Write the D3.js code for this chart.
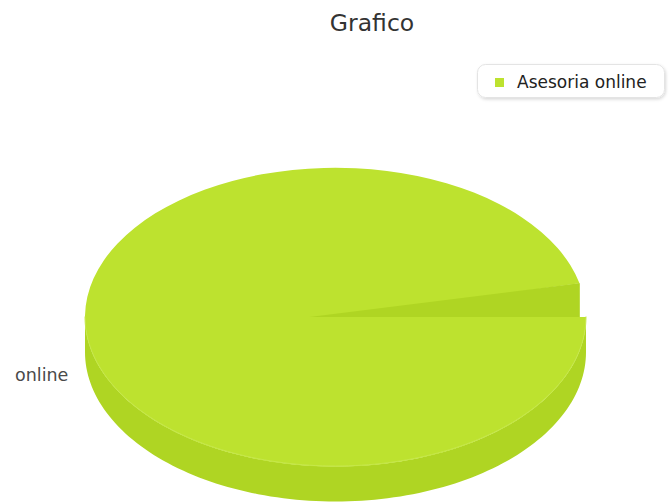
<!DOCTYPE html>
<html>
<head>
<meta charset="utf-8">
<script src="https://cdn.jsdelivr.net/npm/d3@7/dist/d3.min.js"></script>
<style>
  html, body { margin: 0; padding: 0; background: #fff; }
  svg { display: block; font-family: "DejaVu Sans", Verdana, sans-serif; }
</style>
</head>
<body>
<svg id="chart" width="672" height="503"></svg>
<script>
// ---- data ----
const title = "Grafico";
const categories = ["Asesoria online"];
const sliceLabels = ["online"];
const values = [100];
const colors = ["#bde22f"];
const sideColors = ["#afd523"];

// ---- layout ----
const W = 672, H = 503;
const cx = 335.5, cy = 317, rx = 250.5, ry = 149.5, depth = 35;
const apexShift = -26;   // perspective offset of the visible end-face apex
// sweep of the drawn pie (reference shows a small gap above 3 o'clock)
const startA = Math.PI / 2;                       // d3 angle: 3 o'clock
const sweep = 2 * Math.PI * (347 / 360);

const svg = d3.select("#chart");

const pie = d3.pie().sort(null).value(d => d)
  .startAngle(startA).endAngle(startA + sweep);
const arcs = pie(values);

const arcGen = d3.arc().innerRadius(0).outerRadius(1);
const pt = (a, dy = 0) => [cx + rx * Math.sin(a), cy - ry * Math.cos(a) + dy];

const g = svg.append("g");

arcs.forEach((d, i) => {
  const a0 = d.startAngle, a1 = d.endAngle;
  const e = pt(a1);

  // end radial face behind (full)
  g.append("path")
    .attr("d", `M${cx},${cy}L${e[0]},${e[1]}L${e[0]},${e[1] + depth}L${cx},${cy + depth}Z`)
    .attr("fill", sideColors[i]);

  // outer side wall (front half)
  const s0 = Math.max(a0, Math.PI / 2), s1 = Math.min(a1, 3 * Math.PI / 2);
  if (s1 > s0) {
    const n = 120;
    const top = d3.range(n + 1).map(k => pt(s0 + (s1 - s0) * k / n));
    const bot = top.map(p => [p[0], p[1] + depth]).reverse();
    g.append("path")
      .attr("d", "M" + top.concat(bot).map(p => p.join(",")).join("L") + "Z")
      .attr("fill", sideColors[i]);
  }

  // top face
  g.append("path")
    .attr("transform", `translate(${cx},${cy}) scale(${rx},${ry})`)
    .attr("d", arcGen(d))
    .attr("fill", colors[i]);

  // visible part of end face seen through the gap
  g.append("path")
    .attr("d", `M${cx + apexShift},${cy}L${e[0]},${e[1]}L${e[0]},${cy}Z`)
    .attr("fill", sideColors[i]);

  // subtle light rim along front edge
  const n2 = 120;
  const rim = d3.range(n2 + 1).map(k => pt(s0 + (s1 - s0) * k / n2, -0.5));
  g.append("path")
    .attr("d", "M" + rim.map(p => p.join(",")).join("L"))
    .attr("fill", "none")
    .attr("stroke", "#c6e84a")
    .attr("stroke-width", 1);
});

// slice label
svg.append("text")
  .attr("x", 15).attr("y", 381)
  .attr("font-size", 17.5)
  .attr("fill", "#4a4a4a")
  .text(sliceLabels[0]);

// title
svg.append("text")
  .attr("x", 372).attr("y", 31)
  .attr("text-anchor", "middle")
  .attr("font-size", 23.5)
  .attr("fill", "#333")
  .text(title);

// legend
const defs = svg.append("defs");
const f = defs.append("filter").attr("id", "sh").attr("x", "-10%").attr("y", "-30%").attr("width", "130%").attr("height", "170%");
f.append("feDropShadow").attr("dx", 1).attr("dy", 1.5).attr("stdDeviation", 1.5).attr("flood-color", "#000").attr("flood-opacity", 0.15);

const lg = svg.append("g");
lg.append("rect")
  .attr("x", 477.5).attr("y", 64.5).attr("width", 187).attr("height", 33)
  .attr("rx", 8).attr("ry", 8)
  .attr("fill", "#fff").attr("stroke", "#e4e4e4").attr("stroke-width", 1)
  .attr("filter", "url(#sh)");
categories.forEach((c, i) => {
  lg.append("rect")
    .attr("x", 495).attr("y", 78 + i * 24).attr("width", 9).attr("height", 9)
    .attr("fill", colors[i]);
  lg.append("text")
    .attr("x", 517).attr("y", 88 + i * 24)
    .attr("font-size", 17)
    .attr("fill", "#222")
    .text(c);
});
</script>
</body>
</html>
